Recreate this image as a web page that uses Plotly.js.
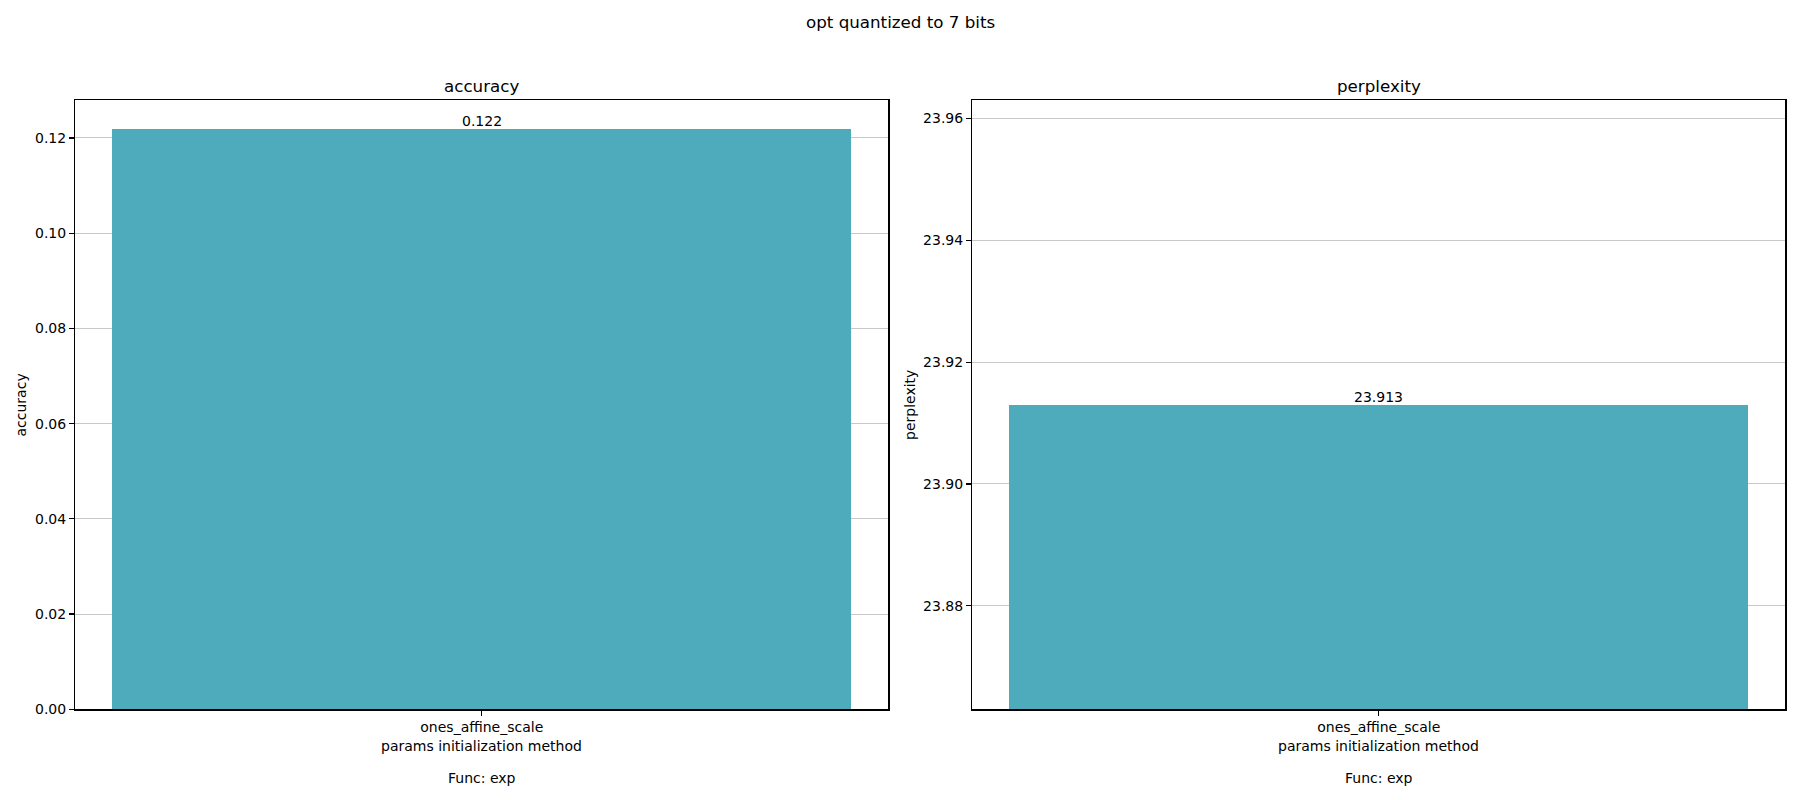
<!DOCTYPE html>
<html>
<head>
<meta charset="utf-8">
<script src="https://cdn.plot.ly/plotly-3.0.1.min.js"></script>
<style>html,body{margin:0;padding:0;background:#fff;}#chart{width:1800px;height:800px;}</style>
</head>
<body>
<div id="chart"></div>
<script>
const categories = ["ones_affine_scale"];
const accuracyValues = [0.1218];
const accuracyLabels = ["0.122"];
const perplexityValues = [23.913];
const perplexityLabels = ["23.913"];
const suptitle = "opt quantized to 7 bits";
const subTitles = ["accuracy", "perplexity"];
const xLabel = "params initialization method";
const footer = "Func: exp";

const barColor = "#4eabbb";
const font = {family: "DejaVu Sans, sans-serif", size: 14, color: "#000"};

const W = 1800, H = 800;
const px = v => v / W, py = v => 1 - v / H;

const traces = [
  {type: "bar", x: categories, y: accuracyValues, marker: {color: barColor}, width: 0.8, xaxis: "x", yaxis: "y", hoverinfo: "skip"},
  {type: "bar", x: categories, y: perplexityValues, base: 0, marker: {color: barColor}, width: 0.8, xaxis: "x2", yaxis: "y2", hoverinfo: "skip"}
];

const axisCommon = {showline: true, mirror: true, linecolor: "#000", linewidth: 1.3,
  ticks: "outside", ticklen: 5, tickwidth: 1.2, tickcolor: "#000", tickfont: {size: 14, color: "#000"}, zeroline: false};

const yTop = 100.3, yBot = 709.3;
const barLabels = [];
categories.forEach((c, i) => {
  barLabels.push({text: accuracyLabels[i], x: c, y: accuracyValues[i], xref: "x", yref: "y", showarrow: false,
    xanchor: "center", yanchor: "bottom", yshift: -2, font: {size: 14}});
  barLabels.push({text: perplexityLabels[i], x: c, y: perplexityValues[i], xref: "x2", yref: "y2", showarrow: false,
    xanchor: "center", yanchor: "bottom", yshift: -2, font: {size: 14}});
});

const layout = {
  width: W, height: H, margin: {l: 0, r: 0, t: 0, b: 0},
  paper_bgcolor: "#fff", plot_bgcolor: "#fff", font: font, showlegend: false, bargap: 0,
  xaxis: Object.assign({}, axisCommon, {domain: [px(75.3), px(888.3)], anchor: "y", range: [-0.44, 0.44], showgrid: false}),
  yaxis: Object.assign({}, axisCommon, {domain: [py(yBot), py(yTop)], anchor: "x", range: [0, 0.1279],
    dtick: 0.02, tickformat: ".2f", showgrid: true, gridcolor: "#c8c8c8", gridwidth: 1}),
  xaxis2: Object.assign({}, axisCommon, {domain: [px(972.3), px(1785.3)], anchor: "y2", range: [-0.44, 0.44], showgrid: false}),
  yaxis2: Object.assign({}, axisCommon, {domain: [py(yBot), py(yTop)], anchor: "x2", range: [23.863, 23.963],
    dtick: 0.02, tickformat: ".2f", showgrid: true, gridcolor: "#c8c8c8", gridwidth: 1}),
  annotations: barLabels.concat([
    {text: suptitle, x: 0.5, y: py(22), xref: "paper", yref: "paper", showarrow: false, font: {size: 16.7}, xanchor: "center", yanchor: "middle"},
    {text: subTitles[0], x: px(481.8), y: py(86), xref: "paper", yref: "paper", showarrow: false, font: {size: 16.7}, xanchor: "center", yanchor: "middle"},
    {text: subTitles[1], x: px(1378.8), y: py(86), xref: "paper", yref: "paper", showarrow: false, font: {size: 16.7}, xanchor: "center", yanchor: "middle"},
    {text: subTitles[0], x: px(20.5), y: py(405), xref: "paper", yref: "paper", showarrow: false, textangle: -90, font: {size: 14}, xanchor: "center", yanchor: "middle"},
    {text: subTitles[1], x: px(910), y: py(405), xref: "paper", yref: "paper", showarrow: false, textangle: -90, font: {size: 14}, xanchor: "center", yanchor: "middle"},
    {text: xLabel, x: px(481.8), y: py(745.5), xref: "paper", yref: "paper", showarrow: false, font: {size: 14}, xanchor: "center", yanchor: "middle"},
    {text: xLabel, x: px(1378.8), y: py(745.5), xref: "paper", yref: "paper", showarrow: false, font: {size: 14}, xanchor: "center", yanchor: "middle"},
    {text: footer, x: px(481.8), y: py(777.5), xref: "paper", yref: "paper", showarrow: false, font: {size: 14}, xanchor: "center", yanchor: "middle"},
    {text: footer, x: px(1378.8), y: py(777.5), xref: "paper", yref: "paper", showarrow: false, font: {size: 14}, xanchor: "center", yanchor: "middle"}
  ])
};

Plotly.newPlot("chart", traces, layout, {staticPlot: true, displayModeBar: false});
</script>
</body>
</html>
